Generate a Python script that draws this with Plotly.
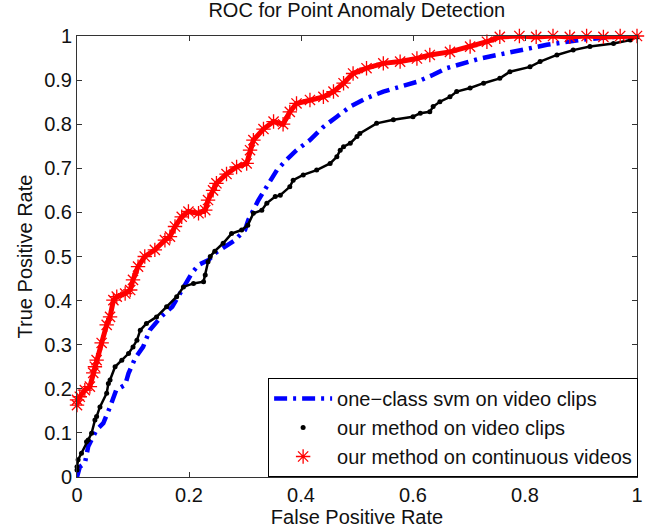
import plotly.graph_objects as go

# ---- data ----
svm_x = [0, 0.005, 0.014, 0.02, 0.035, 0.047, 0.059, 0.07, 0.086, 0.092, 0.104, 0.118, 0.13, 0.15,
         0.17, 0.187, 0.205, 0.217, 0.235, 0.246, 0.264, 0.282, 0.3, 0.306, 0.324, 0.339, 0.357,
         0.374, 0.392, 0.416, 0.44, 0.464, 0.488, 0.517, 0.547, 0.577, 0.607, 0.636, 0.66, 0.72,
         0.779, 0.839, 0.898, 0.958, 1.0]
svm_y = [0, 0.023, 0.031, 0.069, 0.107, 0.122, 0.159, 0.197, 0.209, 0.235, 0.27, 0.295, 0.333, 0.363,
         0.386, 0.424, 0.462, 0.481, 0.492, 0.507, 0.522, 0.537, 0.56, 0.583, 0.628, 0.66, 0.696,
         0.719, 0.741, 0.764, 0.794, 0.817, 0.84, 0.859, 0.874, 0.885, 0.896, 0.912, 0.927, 0.949,
         0.964, 0.98, 0.991, 0.998, 1.0]

clip_x = [0, 0, 0.002, 0.008, 0.017, 0.02, 0.026, 0.032, 0.035, 0.041, 0.053, 0.056, 0.059, 0.068,
          0.08, 0.092, 0.1, 0.107, 0.113, 0.124, 0.142, 0.16, 0.178, 0.19, 0.208, 0.226, 0.229,
          0.234, 0.238, 0.246, 0.261, 0.276, 0.294, 0.305, 0.315, 0.33, 0.339, 0.354, 0.363, 0.38,
          0.386, 0.404, 0.428, 0.452, 0.464, 0.47, 0.476, 0.488, 0.5, 0.505, 0.535, 0.565, 0.6,
          0.613, 0.63, 0.636, 0.648, 0.666, 0.678, 0.702, 0.726, 0.755, 0.773, 0.809, 0.827, 0.857,
          0.886, 0.916, 0.958, 0.988, 1.0]
clip_y = [0.016, 0.023, 0.039, 0.054, 0.08, 0.084, 0.099, 0.129, 0.137, 0.159, 0.19, 0.212, 0.22, 0.25,
          0.265, 0.28, 0.295, 0.31, 0.333, 0.348, 0.363, 0.386, 0.409, 0.431, 0.439, 0.443, 0.458,
          0.488, 0.5, 0.512, 0.53, 0.552, 0.56, 0.571, 0.598, 0.605, 0.621, 0.636, 0.639, 0.658,
          0.673, 0.685, 0.696, 0.711, 0.726, 0.741, 0.749, 0.757, 0.772, 0.779, 0.802, 0.81, 0.817,
          0.825, 0.828, 0.84, 0.851, 0.862, 0.874, 0.882, 0.893, 0.904, 0.919, 0.93, 0.942, 0.957,
          0.968, 0.976, 0.983, 0.991, 0.998]

cont_x = [0, 0, 0.005, 0.014, 0.023, 0.029, 0.032, 0.035, 0.044, 0.053, 0.059, 0.065, 0.071, 0.086,
          0.095, 0.1, 0.109, 0.121, 0.139, 0.157, 0.166, 0.175, 0.187, 0.199, 0.217, 0.229, 0.234,
          0.243, 0.249, 0.267, 0.285, 0.303, 0.309, 0.315, 0.333, 0.351, 0.368, 0.38, 0.392, 0.416,
          0.44, 0.458, 0.476, 0.493, 0.517, 0.547, 0.577, 0.607, 0.63, 0.666, 0.702, 0.732, 0.755,
          0.79, 0.82, 0.85, 0.88, 0.91, 0.94, 0.97, 1.0]
cont_y = [0.163, 0.175, 0.182, 0.197, 0.205, 0.236, 0.25, 0.265, 0.304, 0.345, 0.363, 0.401, 0.409,
          0.416, 0.424, 0.447, 0.477, 0.5, 0.515, 0.537, 0.545, 0.568, 0.59, 0.602, 0.598, 0.605,
          0.628, 0.65, 0.666, 0.687, 0.703, 0.711, 0.741, 0.764, 0.789, 0.806, 0.8, 0.828, 0.847,
          0.855, 0.862, 0.874, 0.893, 0.915, 0.927, 0.938, 0.942, 0.949, 0.957, 0.964, 0.976, 0.987,
          0.998, 1.0, 0.998, 1.0, 0.998, 1.0, 0.998, 1.0, 1.0]

x_ticks = [0, 0.2, 0.4, 0.6, 0.8, 1]
x_tick_text = ["0", "0.2", "0.4", "0.6", "0.8", "1"]
y_ticks = [0, 0.1, 0.2, 0.3, 0.4, 0.5, 0.6, 0.7, 0.8, 0.9, 1]
y_tick_text = ["0", "0.1", "0.2", "0.3", "0.4", "0.5", "0.6", "0.7", "0.8", "0.9", "1"]

names = ["one\u2212class svm on video clips", "our method on video clips",
         "our method on continuous videos"]

FONT = "Liberation Sans, Arial, Helvetica, sans-serif"
FS = 20

fig = go.Figure()

fig.add_trace(go.Scatter(x=svm_x, y=svm_y, mode="lines", name=names[0],
                         line=dict(color="#0000ff", width=4.5, dash="13px,6px,3px,6px")))

# helper connector lines (no legend)
fig.add_trace(go.Scatter(x=clip_x, y=clip_y, mode="lines", showlegend=False, hoverinfo="skip",
                         line=dict(color="black", width=2.5)))
fig.add_trace(go.Scatter(x=clip_x, y=clip_y, mode="markers", name=names[1], cliponaxis=False,
                         marker=dict(color="black", size=5, symbol="circle")))

fig.add_trace(go.Scatter(x=cont_x, y=cont_y, mode="lines", showlegend=False, hoverinfo="skip",
                         line=dict(color="#ff0000", width=5)))
fig.add_trace(go.Scatter(x=cont_x, y=cont_y, mode="markers", name=names[2], cliponaxis=False,
                         marker=dict(color="#ff0000", size=12, symbol="asterisk-open",
                                     line=dict(color="#ff0000", width=1.3))))

axis_common = dict(showgrid=False, zeroline=False, showline=True, linecolor="#333333",
                   linewidth=1, mirror="ticks", ticks="inside", ticklen=5, tickcolor="#333333",
                   tickfont=dict(size=FS, color="#111111", family=FONT))

fig.update_xaxes(range=[0, 1], tickvals=x_ticks, ticktext=x_tick_text,
                 title=dict(text="False Positive Rate", font=dict(size=FS, family=FONT, color="#111111"),
                            standoff=0),
                 **axis_common)
fig.update_yaxes(range=[0, 1], tickvals=y_ticks, ticktext=y_tick_text,
                 title=dict(text="True Positive Rate", font=dict(size=FS, family=FONT, color="#111111"),
                            standoff=6),
                 **axis_common)

fig.update_layout(
    width=662, height=531,
    margin=dict(l=77, r=25, t=36, b=54),
    paper_bgcolor="white", plot_bgcolor="white",
    font=dict(family=FONT, color="#111111"),
    title=dict(text="ROC for Point Anomaly Detection", x=0.539, xanchor="center",
               y=0.995, yanchor="top", font=dict(size=FS, family=FONT, color="#111111")),
    legend=dict(x=1.002, xanchor="right", y=0, yanchor="bottom", bgcolor="white",
                bordercolor="black", borderwidth=1, font=dict(size=FS, family=FONT, color="#111111"),
                itemwidth=58, tracegroupgap=0),
    showlegend=True,
)

fig.write_html("out.html")
